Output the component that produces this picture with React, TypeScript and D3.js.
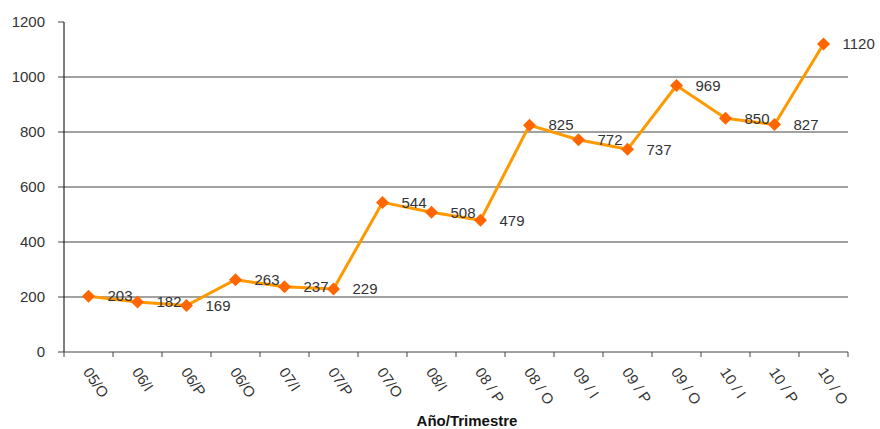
import React from "react";
import * as d3 from "d3";

const categories = ["05/O", "06/I", "06/P", "06/O", "07/I", "07/P", "07/O", "08/I", "08 / P", "08 / O", "09 / I", "09 / P", "09 / O", "10 / I", "10 / P", "10 / O"];
const values = [203, 182, 169, 263, 237, 229, 544, 508, 479, 825, 772, 737, 969, 850, 827, 1120];
const yTicks = [0, 200, 400, 600, 800, 1000, 1200];
const xTitle = "Año/Trimestre";

export default function App() {
  const W = 880, H = 429;
  const left = 64, right = 848, top = 22, bottom = 352;
  const x = d3.scaleBand<string>().domain(categories).range([left, right]);
  const y = d3.scaleLinear().domain([0, 1200]).range([bottom, top]);
  const cx = (c: string) => (x(c) as number) + x.bandwidth() / 2;
  const line = d3.line<number>().x((_, i) => cx(categories[i])).y((v) => y(v));
  const font = "'Liberation Sans', Arial, sans-serif";
  const boundaries = categories.map((c) => x(c) as number).concat([right]);
  return (
    <svg width={W} height={H} style={{ position: "absolute", left: 0, top: 0 }} fontFamily={font}>
      <rect width={W} height={H} fill="#fff" />
      {yTicks.filter((t) => t > 0 && t < 1200).map((t) => (
        <line key={t} x1={left} x2={right} y1={y(t)} y2={y(t)} stroke="#444" strokeWidth={1} />
      ))}
      {yTicks.map((t) => (
        <g key={"yt" + t}>
          <line x1={left - 6} x2={left} y1={y(t)} y2={y(t)} stroke="#444" />
          <text x={left - 19} y={y(t)} dy="0.35em" textAnchor="end" fontSize={15} fill="#333">{t}</text>
        </g>
      ))}
      <line x1={left} x2={left} y1={top} y2={bottom} stroke="#000" />
      <line x1={left} x2={right} y1={bottom} y2={bottom} stroke="#444" />
      {boundaries.map((b, i) => (
        <line key={"xb" + i} x1={b} x2={b} y1={bottom} y2={bottom + 5} stroke="#444" />
      ))}
      {categories.map((c) => (
        <text key={"xl" + c} transform={`translate(${cx(c) - 6},${372}) rotate(56)`} fontSize={15} fill="#333">{c}</text>
      ))}
      <text x={467} y={426} textAnchor="middle" fontSize={15} fontWeight="bold" fill="#111">{xTitle}</text>
      <path d={line(values) || ""} fill="none" stroke="#FF9900" strokeWidth={3} strokeLinejoin="round" />
      {values.map((v, i) => {
        const px = cx(categories[i]), py = y(v), s = 6.5;
        return (
          <g key={"p" + i}>
            <path d={`M${px},${py - s}L${px + s},${py}L${px},${py + s}L${px - s},${py}Z`} fill="#FF6600" />
            <text x={px + 19} y={py} dy="0.35em" fontSize={15} fill="#333">{v}</text>
          </g>
        );
      })}
    </svg>
  );
}
